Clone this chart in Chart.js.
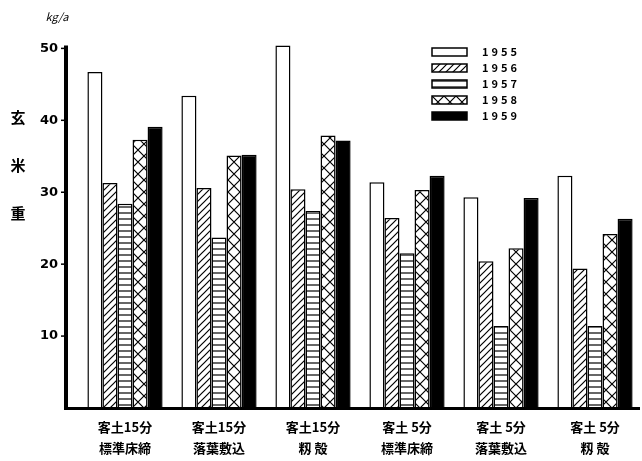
<!DOCTYPE html>
<html>
<head>
  <title>玄米重</title>
  <script src="https://cdn.jsdelivr.net/npm/chart.js"></script>
  <style>
    body { margin: 0; background: #fff; }
  </style>
</head>
<body>
  <canvas id="riceChart" width="642" height="461"></canvas>

  <script>
    // categories (two-line labels) and yearly values
    const categories = [
      ['客土15分', '標準床締'],
      ['客土15分', '落葉敷込'],
      ['客土15分', '籾 殻'],
      ['客土 5分', '標準床締'],
      ['客土 5分', '落葉敷込'],
      ['客土 5分', '籾 殻']
    ];
    const years = ['1955', '1956', '1957', '1958', '1959'];
    const v1955 = [46.7, 43.4, 50.4, 31.4, 29.3, 32.3];
    const v1956 = [31.3, 30.6, 30.4, 26.4, 20.4, 19.4];
    const v1957 = [28.4, 23.7, 27.4, 21.5, 11.4, 11.4];
    const v1958 = [37.3, 35.1, 37.9, 30.3, 22.2, 24.2];
    const v1959 = [39.1, 35.2, 37.2, 32.3, 29.2, 26.3];
    const yTicks = [10, 20, 30, 40, 50];

    const FONT = '"Noto Sans CJK JP", "DejaVu Sans", sans-serif';

    // hatch fills made on small tiles
    function makePattern(kind) {
      const c = document.createElement('canvas');
      const size = kind === 'diag' ? 7 : kind === 'horiz' ? 6 : 12;
      c.width = size; c.height = size;
      const g = c.getContext('2d');
      g.fillStyle = '#fff';
      g.fillRect(0, 0, size, size);
      g.strokeStyle = '#000';
      g.lineWidth = 1.2;
      g.beginPath();
      if (kind === 'diag') {
        g.moveTo(-1, size + 1); g.lineTo(size + 1, -1);
        g.moveTo(-1, 1); g.lineTo(1, -1);
        g.moveTo(size - 1, size + 1); g.lineTo(size + 1, size - 1);
      } else if (kind === 'horiz') {
        g.moveTo(0, 3); g.lineTo(size, 3);
      } else {
        g.moveTo(0, 0); g.lineTo(size, size);
        g.moveTo(size, 0); g.lineTo(0, size);
      }
      g.stroke();
      return g.createPattern(c, 'repeat');
    }

    const fills = ['#ffffff', makePattern('diag'), makePattern('horiz'), makePattern('cross'), '#000000'];
    const series = [v1955, v1956, v1957, v1958, v1959];

    const datasets = years.map((yr, i) => ({
      label: yr,
      data: series[i],
      backgroundColor: fills[i],
      borderColor: '#000',
      borderWidth: 1.5,
      categoryPercentage: 0.8,
      barPercentage: 1.0
    }));

    // axes lines, y title, unit and legend drawn by hand like the original
    const decorations = {
      id: 'decorations',
      afterDraw(chart) {
        const ctx = chart.ctx;
        const y = chart.scales.y;
        const base = y.getPixelForValue(0);
        const axisX = 66;
        ctx.save();
        ctx.strokeStyle = '#000';
        ctx.lineWidth = 4;
        ctx.beginPath();
        ctx.moveTo(axisX, y.getPixelForValue(50) - 3);
        ctx.lineTo(axisX, base + 1);
        ctx.stroke();
        ctx.lineWidth = 3;
        ctx.beginPath();
        ctx.moveTo(axisX - 2, base + 0.5);
        ctx.lineTo(640, base + 0.5);
        ctx.stroke();
        ctx.lineWidth = 1.5;
        yTicks.forEach(t => {
          const py = y.getPixelForValue(t);
          ctx.beginPath();
          ctx.moveTo(axisX - 5, py);
          ctx.lineTo(axisX, py);
          ctx.stroke();
        });

        // vertical y title
        ctx.fillStyle = '#000';
        ctx.font = 'bold 15px ' + FONT;
        ctx.textAlign = 'center';
        ctx.textBaseline = 'middle';
        ['玄', '米', '重'].forEach((ch, i) => ctx.fillText(ch, 18, 117 + i * 48));

        // unit
        ctx.font = 'italic 11px ' + FONT;
        ctx.fillText('kg/a', 57, 17);

        // legend
        const lx = 432, lw = 35, lh = 8;
        ctx.textAlign = 'left';
        ctx.font = 'bold 11px ' + FONT;
        ctx.letterSpacing = '3px';
        chart.data.datasets.forEach((ds, i) => {
          const cy = 52 + i * 16;
          ctx.fillStyle = ds.backgroundColor;
          ctx.fillRect(lx, cy - lh / 2, lw, lh);
          ctx.lineWidth = 1.5;
          ctx.strokeRect(lx, cy - lh / 2, lw, lh);
          ctx.fillStyle = '#000';
          ctx.fillText(ds.label, lx + 50, cy);
        });
        ctx.restore();
      }
    };

    new Chart(document.getElementById('riceChart'), {
      type: 'bar',
      data: { labels: categories, datasets: datasets },
      options: {
        responsive: false,
        animation: false,
        layout: { padding: { top: 34, right: 0, left: 0, bottom: 0 } },
        plugins: {
          legend: { display: false },
          tooltip: { enabled: false }
        },
        scales: {
          x: {
            grid: { display: false, drawTicks: false },
            border: { display: false },
            ticks: {
              color: '#000',
              padding: 8,
              font: { family: FONT, size: 13, weight: 'bold', lineHeight: 1.65 },
              maxRotation: 0,
              autoSkip: false
            },
            afterFit(scale) { scale.height = 53; }
          },
          y: {
            min: 0,
            max: 52,
            grid: { display: false, drawTicks: false },
            border: { display: false },
            afterBuildTicks(scale) {
              scale.ticks = yTicks.map(v => ({ value: v }));
            },
            ticks: {
              color: '#000',
              padding: 20,
              autoSkip: false,
              font: { family: '"DejaVu Sans", sans-serif', size: 13, weight: 'bold' }
            },
            afterFit(scale) { scale.width = 78; }
          }
        }
      },
      plugins: [decorations]
    });
  </script>
</body>
</html>
